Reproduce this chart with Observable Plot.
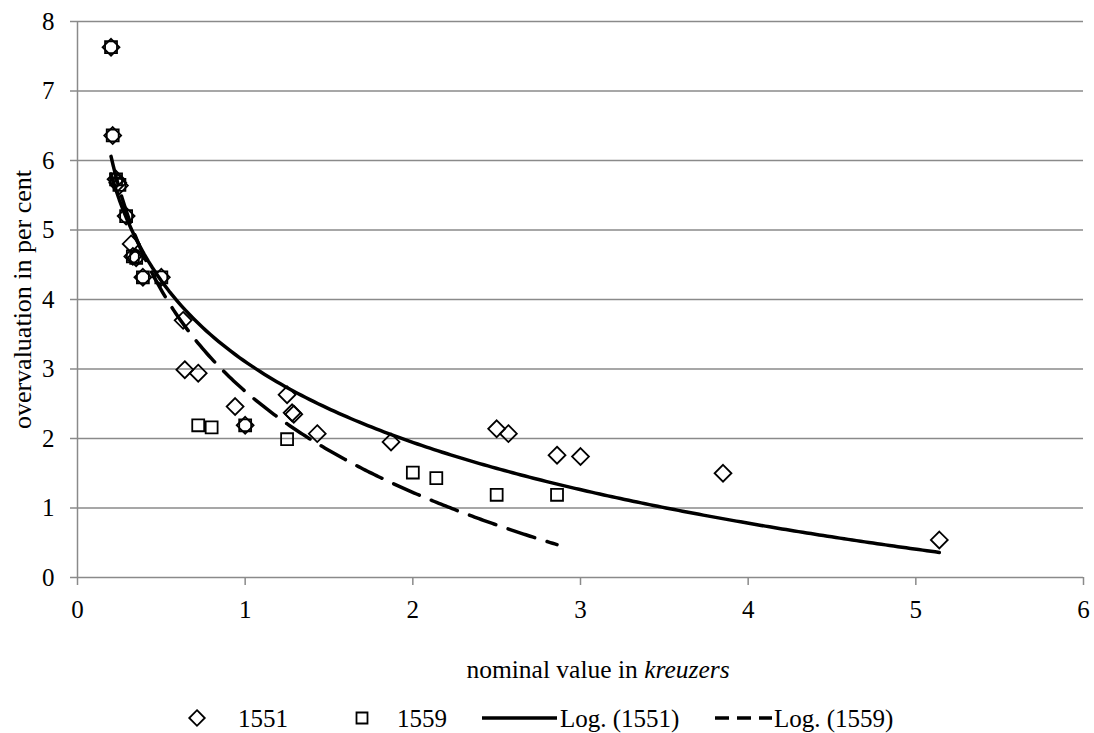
<!DOCTYPE html>
<html>
<head>
<meta charset="utf-8">
<script src="https://cdn.jsdelivr.net/npm/d3@7"></script>
<script src="https://cdn.jsdelivr.net/npm/@observablehq/plot@0.6"></script>
<style>
  body { margin: 0; background: #fff; font-family: "Liberation Serif", serif; }
  #chart svg, #below { display: block; }
  #chart svg, #chart svg text { font-family: "Liberation Serif", serif !important; }
</style>
</head>
<body>
<div id="chart"></div>
<svg id="below" width="1094" height="98"></svg>
<script>
// ---- data ----
const x1551 = [0.20, 0.21, 0.23, 0.24, 0.25, 0.29, 0.32, 0.33, 0.35, 0.39, 0.50, 0.63, 0.64, 0.72, 0.94, 1.00, 1.25, 1.28, 1.29, 1.43, 1.87, 2.50, 2.57, 2.86, 3.00, 3.85, 5.14];
const y1551 = [7.63, 6.36, 5.73, 5.68, 5.64, 5.20, 4.80, 4.62, 4.60, 4.32, 4.32, 3.70, 2.99, 2.94, 2.46, 2.19, 2.63, 2.37, 2.35, 2.07, 1.95, 2.14, 2.07, 1.76, 1.74, 1.50, 0.54];
const x1559 = [0.20, 0.21, 0.23, 0.25, 0.29, 0.33, 0.35, 0.39, 0.50, 0.72, 0.80, 1.00, 1.25, 2.00, 2.14, 2.50, 2.86];
const y1559 = [7.63, 6.36, 5.73, 5.65, 5.20, 4.62, 4.60, 4.32, 4.32, 2.19, 2.16, 2.19, 1.99, 1.51, 1.43, 1.19, 1.19];
const xTicks = [0, 1, 2, 3, 4, 5, 6];
const yTicks = [0, 1, 2, 3, 4, 5, 6, 7, 8];
const seriesNames = ["1551", "1559"];
const trendNames = ["Log. (1551)", "Log. (1559)"];
const yTitle = "overvaluation in per cent";
const xTitleMain = "nominal value in ";
const xTitleItalic = "kreuzers";

// ---- build tables ----
const d1551 = x1551.map((x, i) => ({x, y: y1551[i]}));
const d1559 = x1559.map((x, i) => ({x, y: y1559[i]}));

// Logarithmic trendline (least squares y = a ln x + b), as in the spreadsheet
function logTrend(xs, ys, n = 200) {
  const L = xs.map(Math.log);
  const mL = d3.mean(L), mY = d3.mean(ys);
  let sxy = 0, sxx = 0;
  for (let i = 0; i < L.length; i++) { sxy += (L[i] - mL) * (ys[i] - mY); sxx += (L[i] - mL) ** 2; }
  const a = sxy / sxx, b = mY - a * mL;
  const [lo, hi] = d3.extent(xs);
  return d3.range(n + 1).map(k => { const x = lo + (hi - lo) * k / n; return {x, y: a * Math.log(x) + b}; });
}
const t1551 = logTrend(x1551, y1551);
const t1559 = logTrend(x1559, y1559);

const FONT = "Liberation Serif";
const GRAY = "#8a8a8a";
const plot = Plot.plot({
  width: 1094,
  height: 635,
  marginLeft: 77,
  marginRight: 11,
  marginTop: 21,
  marginBottom: 58,
  style: {fontFamily: FONT, fontSize: "25px", color: "#000", background: "#fff"},
  x: {domain: [0, 6], label: null},
  y: {domain: [0, 8], label: null},
  marks: [
    Plot.gridY(yTicks.filter(d => d > 0), {stroke: GRAY, strokeOpacity: 1, strokeWidth: 1.5}),
    Plot.ruleY([0], {stroke: GRAY, strokeWidth: 1.5}),
    Plot.ruleX([0], {stroke: GRAY, strokeWidth: 1.5}),
    Plot.axisY(yTicks, {tickSize: 7, tickPadding: 16, stroke: GRAY, strokeWidth: 1.5, label: null, fontSize: 25, fontFamily: FONT, tickFormat: "d"}),
    Plot.axisX(xTicks, {tickSize: 8, tickPadding: 15, stroke: GRAY, strokeWidth: 1.5, label: null, fontSize: 25, fontFamily: FONT, tickFormat: "d"}),
    Plot.dot(d1551, {x: "x", y: "y", symbol: "diamond2", r: 7.6, fill: "none", stroke: "#000", strokeWidth: 1.8}),
    Plot.dot(d1559, {x: "x", y: "y", symbol: "square2", r: 7.6, fill: "none", stroke: "#000", strokeWidth: 1.8}),
    Plot.line(t1551, {x: "x", y: "y", stroke: "#000", strokeWidth: 3.5}),
    Plot.line(t1559, {x: "x", y: "y", stroke: "#000", strokeWidth: 3.5, strokeDasharray: "28,13"}),
    Plot.text([yTitle], {text: d => d, frameAnchor: "left", textAnchor: "middle", rotate: -90, dx: -55, fontSize: 26, fontFamily: FONT, fill: "#000"})
  ]
});
document.getElementById("chart").appendChild(plot);

// ---- x title and legend below the chart ----
const below = d3.select("#below").style("font-family", FONT);
const xt = below.append("text").attr("x", 598).attr("y", 43).attr("text-anchor", "middle").attr("font-size", 25.5);
xt.append("tspan").text(xTitleMain);
xt.append("tspan").attr("font-style", "italic").text(xTitleItalic);

const ly = 83; // legend symbol centre
const base = 92; // legend text baseline
const sym = d3.symbol();
below.append("path").attr("transform", `translate(197,${ly})`)
  .attr("d", sym.type(d3.symbolDiamond2).size(Math.PI * 7 * 7)()).attr("fill", "none").attr("stroke", "#000").attr("stroke-width", 1.8);
below.append("text").attr("x", 238).attr("y", base).attr("font-size", 25).text(seriesNames[0]);
below.append("path").attr("transform", `translate(362,${ly})`)
  .attr("d", sym.type(d3.symbolSquare2).size(Math.PI * 7 * 7)()).attr("fill", "none").attr("stroke", "#000").attr("stroke-width", 1.8);
below.append("text").attr("x", 397).attr("y", base).attr("font-size", 25).text(seriesNames[1]);
below.append("line").attr("x1", 482).attr("x2", 557).attr("y1", ly).attr("y2", ly).attr("stroke", "#000").attr("stroke-width", 3.5);
below.append("text").attr("x", 560).attr("y", base).attr("font-size", 25).text(trendNames[0]);
below.append("line").attr("x1", 715).attr("x2", 772).attr("y1", ly).attr("y2", ly).attr("stroke", "#000").attr("stroke-width", 3.5).attr("stroke-dasharray", "14,8");
below.append("text").attr("x", 774).attr("y", base).attr("font-size", 25).text(trendNames[1]);
</script>
</body>
</html>
